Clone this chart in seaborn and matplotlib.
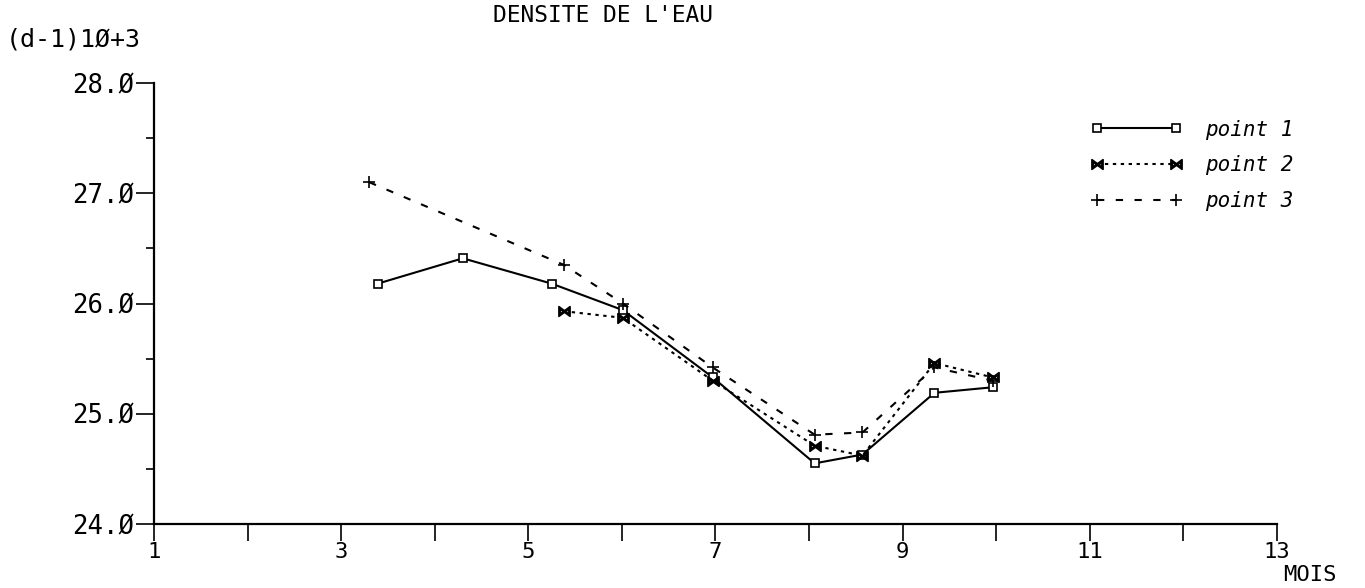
import matplotlib
matplotlib.use("Agg")
import matplotlib.pyplot as plt
import seaborn as sns
import pandas as pd

# Sampling months and water density (d-1)*10^3 at three stations
mois_p1 = [3.39, 4.30, 5.25, 6.01, 6.97, 8.06, 8.57, 9.34, 9.96]
dens_p1 = [26.18, 26.41, 26.18, 25.94, 25.33, 24.55, 24.63, 25.19, 25.24]

mois_p2 = [5.38, 6.01, 6.97, 8.06, 8.57, 9.34, 9.96]
dens_p2 = [25.93, 25.87, 25.30, 24.71, 24.62, 25.46, 25.33]

mois_p3 = [3.30, 5.38, 6.01, 6.97, 8.06, 8.57, 9.34, 9.96]
dens_p3 = [27.10, 26.35, 26.00, 25.42, 24.81, 24.83, 25.42, 25.30]

series_names = ["point 1", "point 2", "point 3"]
x_ticks = list(range(1, 14))
x_tick_labels = [str(v) if v % 2 == 1 else "" for v in x_ticks]
y_ticks = [24.0, 25.0, 26.0, 27.0, 28.0]
y_tick_labels = ["24.Ø", "25.Ø", "26.Ø", "27.Ø", "28.Ø"]
y_minor = [24.5, 25.5, 26.5, 27.5]

sns.set_theme(style="ticks")
plt.rcParams["font.family"] = ["DejaVu Sans Mono", "DejaVu Sans"]
plt.rcParams["text.color"] = "black"
plt.rcParams["xtick.color"] = "black"
plt.rcParams["ytick.color"] = "black"

fig = plt.figure(figsize=(13.65, 5.88), dpi=100)
ax = fig.add_axes([154 / 1365, 1 - 524 / 588, (1277 - 154) / 1365, (524 - 83) / 588])

styles = [
    dict(marker="s", linestyle="-", ms=5.5, mfc="white"),
    dict(marker=r"$\bowtie$", linestyle=(0, (1.6, 2.2)), ms=8, mfc="black"),
    dict(marker="+", linestyle=(0, (3.5, 5.5)), ms=9, mfc="black"),
]
data = [(mois_p1, dens_p1), (mois_p2, dens_p2), (mois_p3, dens_p3)]

handles = []
for name, (xs, ys), st in zip(series_names, data, styles):
    df = pd.DataFrame({"mois": xs, "densite": ys})
    before = len(ax.lines)
    sns.lineplot(data=df, x="mois", y="densite", ax=ax, color="black",
                 marker=st["marker"], linestyle=st["linestyle"], lw=1.5,
                 markersize=st["ms"], mec="black", mew=1.2, sort=False,
                 estimator=None, legend=False)
    line = ax.lines[before]
    line.set_markerfacecolor(st["mfc"])
    line.set_markeredgecolor("black")
    line.set_linestyle(st["linestyle"])
    line.set_label(name)
    handles.append(line)

ax.set_xlim(1, 13)
ax.set_ylim(24, 28)
ax.set_xticks(x_ticks)
ax.set_xticklabels(x_tick_labels, fontsize=16, color="black")
ax.set_yticks(y_ticks)
ax.set_yticklabels(y_tick_labels, fontsize=18.5, color="black")
ax.set_yticks(y_minor, minor=True)
ax.tick_params(axis="x", direction="out", length=12, width=1.2, pad=1)
ax.tick_params(axis="y", which="major", direction="out", length=13, width=1.2, pad=1)
ax.tick_params(axis="y", which="minor", direction="out", length=6, width=1.2)
ax.set_xlabel("")
ax.set_ylabel("")
for side in ["top", "right"]:
    ax.spines[side].set_visible(False)
for side in ["left", "bottom"]:
    ax.spines[side].set_linewidth(1.6)
    ax.spines[side].set_color("black")
ax.set_facecolor("white")

fig.text(603 / 1365, 1 - 16 / 588, "DENSITE DE L'EAU", ha="center", va="center", fontsize=16.5)
fig.text(6 / 1365, 1 - 39 / 588, "(d-1)1Ø+3", ha="left", va="center", fontsize=18)
fig.text(1310 / 1365, 1 - 575 / 588, "MOIS", ha="center", va="center", fontsize=16)

fig.legend(handles=handles, labels=series_names, loc="upper left",
           bbox_to_anchor=(1072 / 1365, 1 - 101 / 588), frameon=False,
           numpoints=2, handlelength=4.4, handletextpad=1.1, labelspacing=0.75,
           prop={"family": "DejaVu Sans Mono", "style": "italic", "size": 15})

fig.savefig("out.png", dpi=100, facecolor="white")
